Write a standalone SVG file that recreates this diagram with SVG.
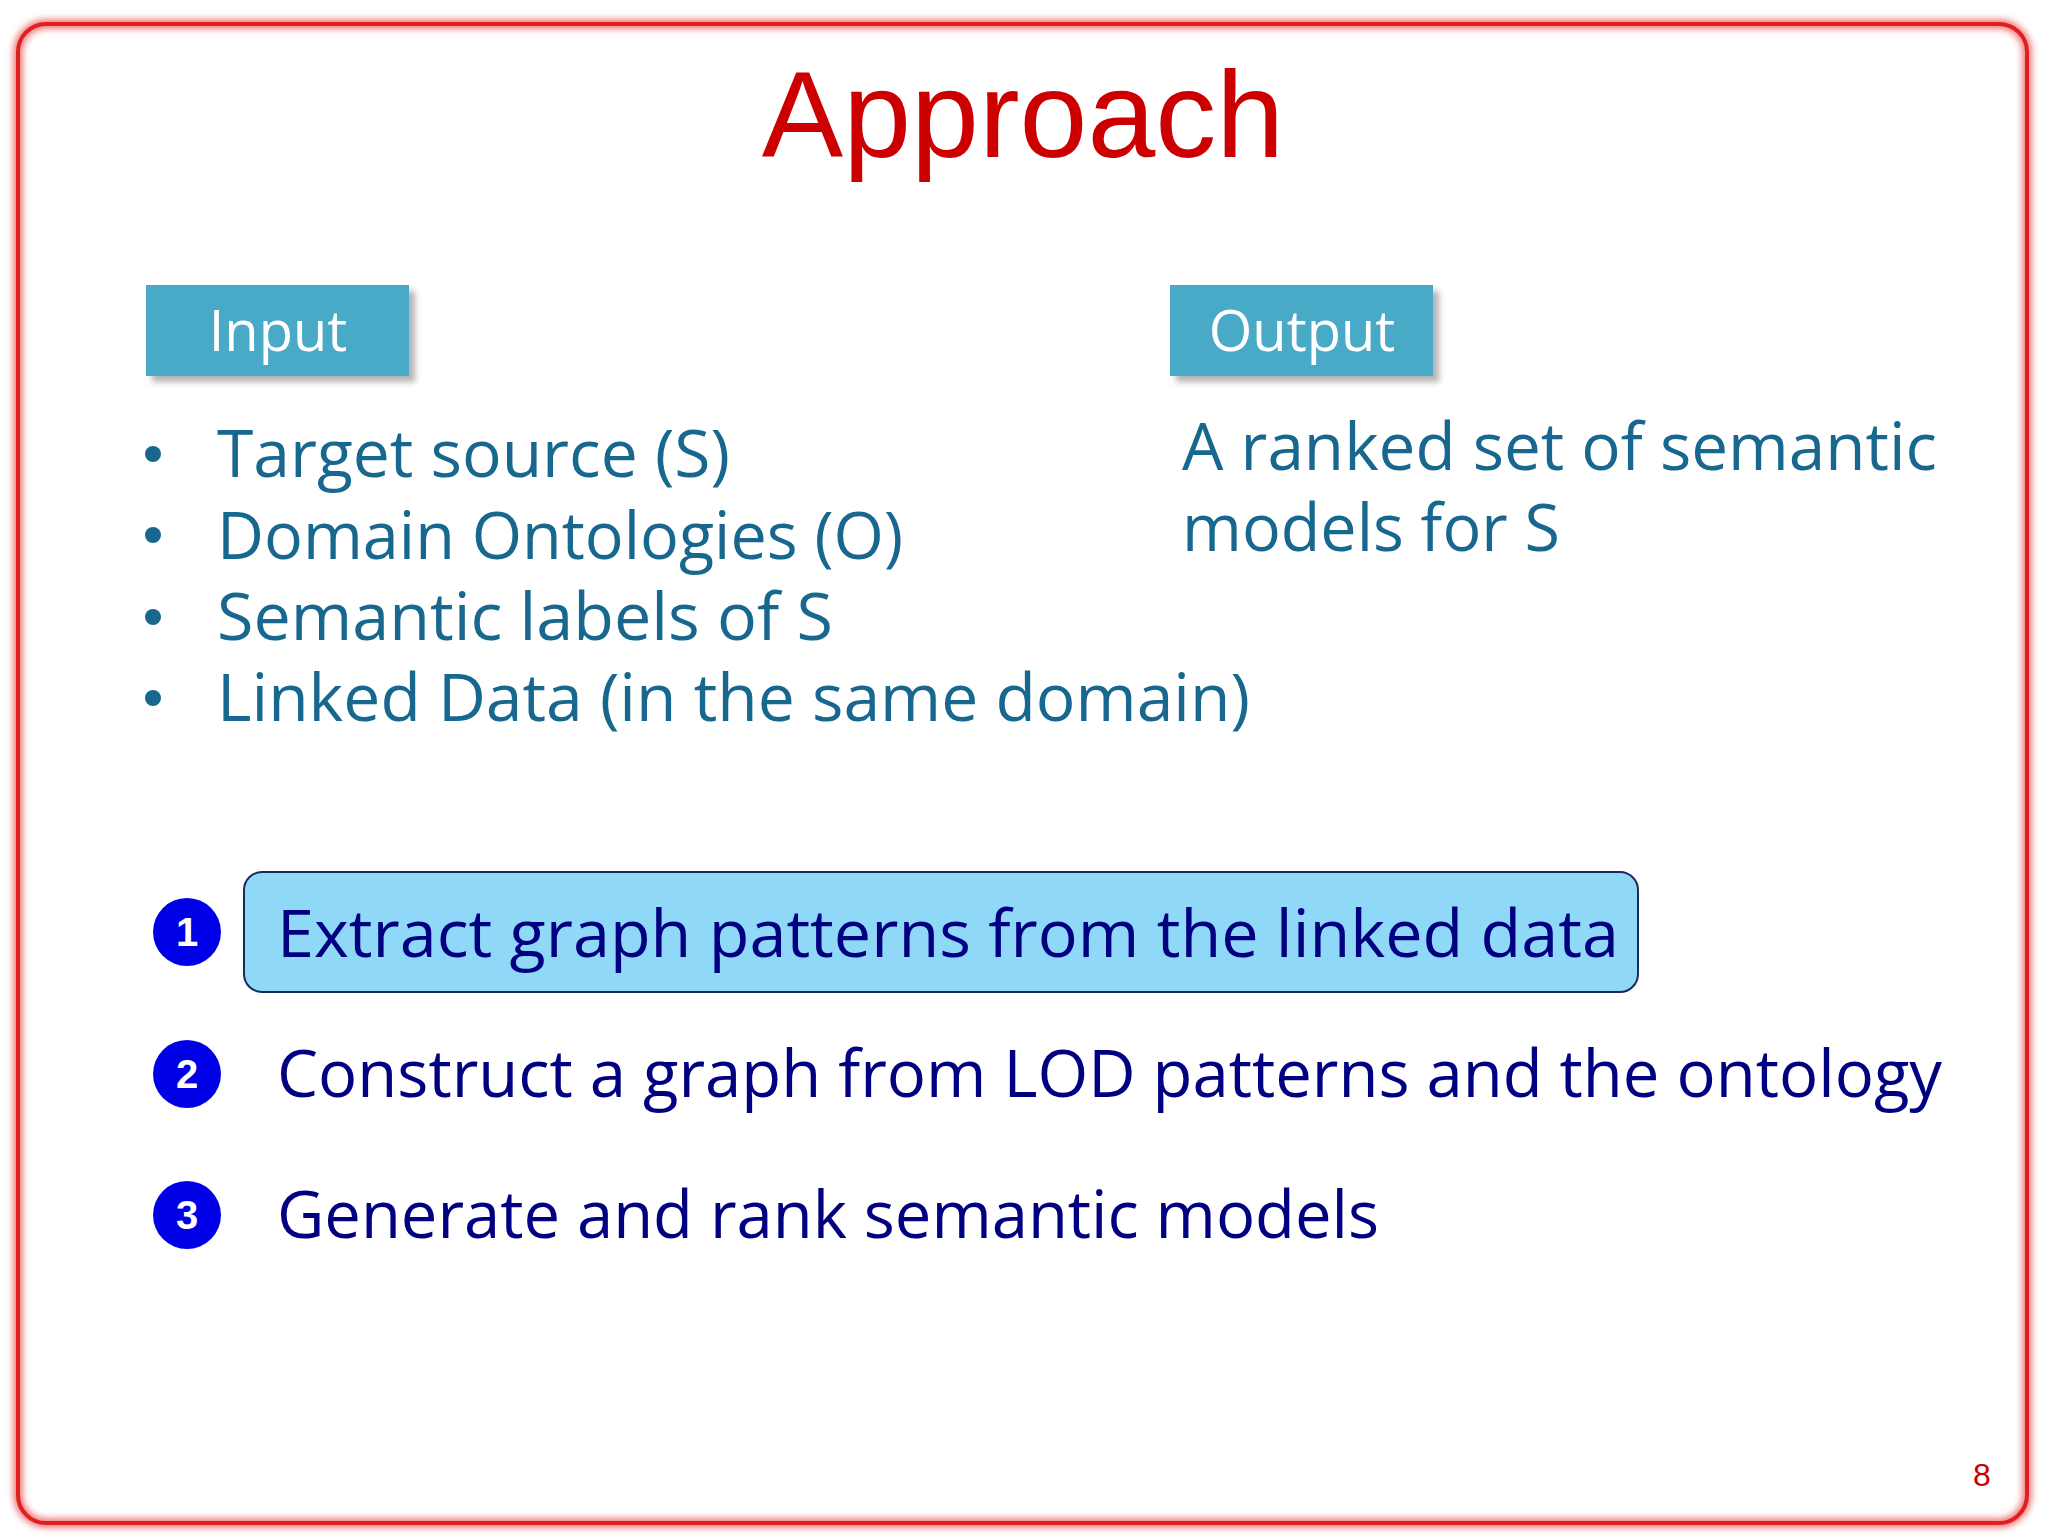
<svg xmlns="http://www.w3.org/2000/svg" width="2048" height="1536" viewBox="0 0 2048 1536">
<defs>
<filter id="sh" x="-10%" y="-10%" width="130%" height="140%"><feDropShadow dx="6" dy="6" stdDeviation="3" flood-color="#000" flood-opacity="0.3"/></filter>
<filter id="gl" x="-5%" y="-5%" width="110%" height="110%"><feGaussianBlur stdDeviation="3"/></filter>
</defs>
<style>
.b{font-family:"Open Sans","DejaVu Sans",sans-serif;font-size:66px;fill:#17678f}
.s{font-family:"Open Sans","DejaVu Sans",sans-serif;font-size:66px;fill:#000080}
.h{font-family:"Open Sans","DejaVu Sans",sans-serif;font-size:56px;fill:#fff;text-anchor:middle}
.n{font-family:"Liberation Sans",Arial,sans-serif;font-size:40px;font-weight:bold;fill:#fff;text-anchor:middle}
.c{fill:#0000e6}
</style>
<rect width="2048" height="1536" fill="#fff"/>
<rect x="18" y="24" width="2009" height="1499" rx="28" fill="none" stroke="#f08080" stroke-width="10" filter="url(#gl)"/>
<rect x="18" y="24" width="2009" height="1499" rx="28" fill="none" stroke="#e02020" stroke-width="4"/>
<text x="1023" y="157" text-anchor="middle" font-family="Liberation Sans,Arial,sans-serif" font-size="122" fill="#cc0000">Approach</text>
<g id="input"><rect x="146" y="285" width="263" height="91" fill="#4aaac8" filter="url(#sh)"/><text class="h" x="278" y="351">Input</text></g>
<g id="output"><rect x="1170" y="285" width="263" height="91" fill="#4aaac8" filter="url(#sh)"/><text class="h" x="1302" y="351">Output</text></g>
<g id="inputs">
<circle cx="153" cy="454" r="8" fill="#17678f"/><circle cx="153" cy="535" r="8" fill="#17678f"/><circle cx="153" cy="617" r="8" fill="#17678f"/><circle cx="153" cy="698" r="8" fill="#17678f"/>
<text class="b" x="217" y="477" textLength="513" lengthAdjust="spacingAndGlyphs">Target source (S)</text>
<text class="b" x="217" y="559" textLength="686" lengthAdjust="spacingAndGlyphs">Domain Ontologies (O)</text>
<text class="b" x="217" y="640" textLength="616" lengthAdjust="spacingAndGlyphs">Semantic labels of S</text>
<text class="b" x="217" y="721" textLength="1033" lengthAdjust="spacingAndGlyphs">Linked Data (in the same domain)</text>
</g>
<g id="outputs">
<text class="b" x="1182" y="470" textLength="755" lengthAdjust="spacingAndGlyphs">A ranked set of semantic</text>
<text class="b" x="1182" y="551" textLength="378" lengthAdjust="spacingAndGlyphs">models for S</text>
</g>
<g id="step1"><circle class="c" cx="187" cy="932" r="34"/><text class="n" x="187" y="946">1</text>
<rect x="244" y="872" width="1394" height="120" rx="18" fill="#8fd8f8" stroke="#1a2a5a" stroke-width="2"/>
<text class="s" x="277" y="957" textLength="1342" lengthAdjust="spacingAndGlyphs">Extract graph patterns from the linked data</text></g>
<g id="step2"><circle class="c" cx="187" cy="1074" r="34"/><text class="n" x="187" y="1088">2</text>
<text class="s" x="277" y="1097" textLength="1665" lengthAdjust="spacingAndGlyphs">Construct a graph from LOD patterns and the ontology</text></g>
<g id="step3"><circle class="c" cx="187" cy="1215" r="34"/><text class="n" x="187" y="1229">3</text>
<text class="s" x="277" y="1238" textLength="1102" lengthAdjust="spacingAndGlyphs">Generate and rank semantic models</text></g>
<text x="1982" y="1486" text-anchor="middle" font-family="Liberation Sans,Arial,sans-serif" font-size="32" fill="#cc0000">8</text>
</svg>
